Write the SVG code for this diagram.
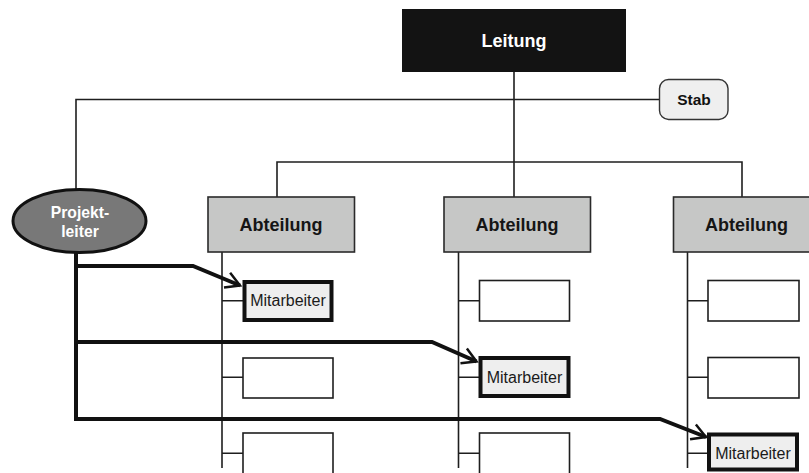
<svg xmlns="http://www.w3.org/2000/svg" width="809" height="473" viewBox="0 0 809 473">
  <style>
    .thin { fill: none; stroke: #1e1e1e; stroke-width: 1.6; }
    .thick { fill: none; stroke: #111; stroke-width: 4; stroke-linejoin: miter; }
    .dept { fill: #c6c7c6; stroke: #2a2a2a; stroke-width: 1.6; }
    .slot { fill: #fff; stroke: #1e1e1e; stroke-width: 1.6; }
    .member { fill: #eeeeee; stroke: #111; stroke-width: 4; }
    .lbl { font-family: "Liberation Sans", Arial, sans-serif; text-anchor: middle; }
    .b { font-weight: bold; }
    .mt { font-size: 16px; fill: #1a1a1a; }
    .dt { font-size: 18px; fill: #151515; }
  </style>
  <defs>
    <marker id="arrow" markerUnits="userSpaceOnUse" markerWidth="18" markerHeight="18" refX="15" refY="8" orient="auto" overflow="visible">
      <path d="M1,0 L15,8 L1,16" fill="none" stroke="#111" stroke-width="2.5"/>
    </marker>
  </defs>

  <rect width="809" height="473" fill="#fff"/>

  <!-- connectors -->
  <g id="connectors">
    <!-- line organisation -->
    <path class="thin" d="M514,72 V197"/>
    <path class="thin" d="M76,189 V99.5 H659"/>
    <path class="thin" d="M277,197 V162 H742 V197"/>
    <!-- department columns -->
    <path class="thin" d="M222,252 V468 M222,300.7 H243 M222,377.3 H243 M222,453.3 H243"/>
    <path class="thin" d="M458.5,252 V468 M458.5,300.7 H480 M458.5,377.3 H480 M458.5,453.3 H480"/>
    <path class="thin" d="M687.5,252 V468 M687.5,300.7 H708 M687.5,377.3 H708 M687.5,453.3 H708"/>
    <!-- project lines -->
    <path class="thick" d="M76,253 V421"/>
    <path class="thick" d="M74,266 H193 L240,285.5" marker-end="url(#arrow)"/>
    <path class="thick" d="M74,342 H432 L476.5,361.5" marker-end="url(#arrow)"/>
    <path class="thick" d="M74,419 H660 L706,437" marker-end="url(#arrow)"/>
  </g>

  <g id="leitung">
    <rect x="402" y="9" width="224" height="63" fill="#131313"/>
    <text class="lbl b" x="514" y="47" font-size="18" fill="#fff">Leitung</text>
  </g>

  <g id="stab">
    <rect x="659.5" y="79.5" width="68.5" height="40" rx="9" fill="#efefef" stroke="#333" stroke-width="1.4"/>
    <text class="lbl b" x="694" y="105" font-size="15.5" fill="#111">Stab</text>
  </g>

  <g id="projektleiter">
    <ellipse cx="79.5" cy="221" rx="66.5" ry="31.5" fill="#787878" stroke="#111" stroke-width="3"/>
    <text class="lbl b" x="80" y="218" font-size="15.7" fill="#fff">Projekt-</text>
    <text class="lbl b" x="80" y="237" font-size="15.7" fill="#fff">leiter</text>
  </g>

  <g id="abteilung-1">
    <rect class="dept" x="208" y="197" width="146.5" height="55"/>
    <text class="lbl b dt" x="281" y="231">Abteilung</text>
  </g>
  <g id="abteilung-2">
    <rect class="dept" x="444" y="197" width="146.5" height="55"/>
    <text class="lbl b dt" x="517" y="231">Abteilung</text>
  </g>
  <g id="abteilung-3">
    <rect class="dept" x="673.5" y="197" width="146.5" height="55"/>
    <text class="lbl b dt" x="746.5" y="231">Abteilung</text>
  </g>

  <!-- column 1 -->
  <g id="mitarbeiter-1">
    <rect class="member" x="244.5" y="282" width="87" height="38"/>
    <text class="lbl mt" x="288" y="306">Mitarbeiter</text>
  </g>
  <g id="stelle-1-2"><rect class="slot" x="243" y="358" width="90" height="40"/></g>
  <g id="stelle-1-3"><rect class="slot" x="243" y="433" width="90" height="50"/></g>

  <!-- column 2 -->
  <g id="stelle-2-1"><rect class="slot" x="479.5" y="280.5" width="90" height="40.5"/></g>
  <g id="mitarbeiter-2">
    <rect class="member" x="480.5" y="358" width="88" height="38"/>
    <text class="lbl mt" x="524.5" y="383">Mitarbeiter</text>
  </g>
  <g id="stelle-2-3"><rect class="slot" x="479.5" y="433" width="90" height="50"/></g>

  <!-- column 3 -->
  <g id="stelle-3-1"><rect class="slot" x="708" y="280.5" width="91" height="40.5"/></g>
  <g id="stelle-3-2"><rect class="slot" x="708" y="357.5" width="91" height="40.5"/></g>
  <g id="mitarbeiter-3">
    <rect class="member" x="709" y="434.5" width="88" height="35"/>
    <text class="lbl mt" x="753" y="459">Mitarbeiter</text>
  </g>
</svg>
